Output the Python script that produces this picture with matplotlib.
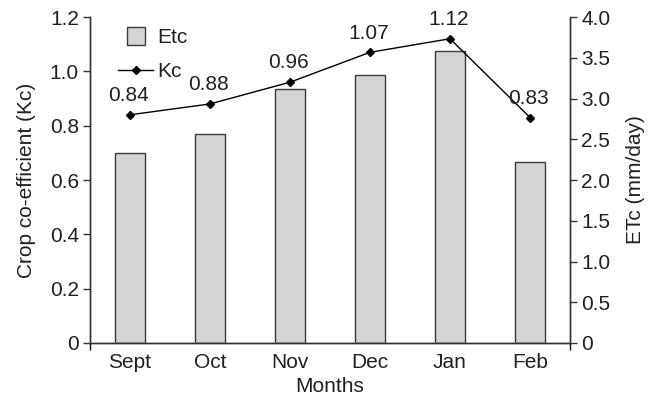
import numpy as np
import matplotlib
matplotlib.use('Agg')
from matplotlib import pyplot as plt
from matplotlib.lines import Line2D

plt.rcParams['font.family'] = ['Liberation Sans', 'DejaVu Sans']
plt.rcParams['font.size'] = 15

months = ['Sept', 'Oct', 'Nov', 'Dec', 'Jan', 'Feb']
kc = [0.84, 0.88, 0.96, 1.07, 1.12, 0.83]
etc = [2.33, 2.57, 3.12, 3.29, 3.58, 2.22]
kc_ticks = [0, 0.2, 0.4, 0.6, 0.8, 1.0, 1.2]
kc_ticklabels = ['0', '0.2', '0.4', '0.6', '0.8', '1.0', '1.2']
etc_ticks = [0, 0.5, 1.0, 1.5, 2.0, 2.5, 3.0, 3.5, 4.0]
etc_ticklabels = ['0', '0.5', '1.0', '1.5', '2.0', '2.5', '3.0', '3.5', '4.0']

txt = '#231f20'
fig = plt.figure(figsize=(6.53, 4.0), dpi=100)
ax = fig.add_axes([90/653, 1 - 343/400, 480/653, 326/400])
ax2 = ax.twinx()

x = np.arange(len(months))

# bars on the right axis (ETc), line on the left axis (Kc) drawn on top
ax2.bar(x, etc, width=0.38, color='#d4d4d6', edgecolor='#3a3a3a', linewidth=1.0)
ax.set_zorder(ax2.get_zorder() + 1)
ax.patch.set_visible(False)

ax.plot(x, kc, color='black', linewidth=1.0, marker='D', markersize=4.5)
for xi, v in zip(x, kc):
    ax.annotate('%.2f' % v, (xi, v), xytext=(-1, 7), textcoords='offset points',
                ha='center', va='bottom', color=txt)

ax.set_xlim(-0.5, 5.5)
ax.set_ylim(0, 1.2)
ax2.set_ylim(0, 4.0)

ax.set_yticks(kc_ticks)
ax.set_yticklabels(kc_ticklabels)
ax2.set_yticks(etc_ticks)
ax2.set_yticklabels(etc_ticklabels)
ax.set_xticks(x)
ax.set_xticklabels(months)
ax.set_xticks([-0.5, 5.5], minor=True)

ax.tick_params(axis='x', which='major', length=0, pad=7, colors=txt)
ax.tick_params(axis='x', which='minor', length=5, width=1.0, direction='out')
ax.tick_params(axis='y', length=5, width=1.0, direction='out', pad=3, colors=txt)
ax2.tick_params(axis='y', length=5, width=1.0, direction='out', pad=3, colors=txt)
for a in (ax, ax2):
    a.tick_params(axis='both', color='#333333')
    for s in a.spines.values():
        s.set_color('#333333')
        s.set_linewidth(1.0)
    a.spines['top'].set_visible(False)

ax.set_ylabel('Crop co-efficient (Kc)', color=txt, labelpad=10)
ax2.set_ylabel('ETc (mm/day)', color=txt, labelpad=11)
ax.set_xlabel('Months', color=txt, labelpad=4)

handles = [
    Line2D([], [], linestyle='none', marker='s', markersize=13,
           markerfacecolor='#d4d4d6', markeredgecolor='#3a3a3a', markeredgewidth=1.0),
    Line2D([], [], color='black', linewidth=1.0, marker='D', markersize=4.5),
]
ax.legend(handles, ['Etc', 'Kc'], loc='upper left', bbox_to_anchor=(0.058, 0.965),
          frameon=False, handlelength=1.7, handletextpad=0.2, labelspacing=0.7,
          borderpad=0, borderaxespad=0, labelcolor=txt)

plt.savefig('out.png', dpi=100)
